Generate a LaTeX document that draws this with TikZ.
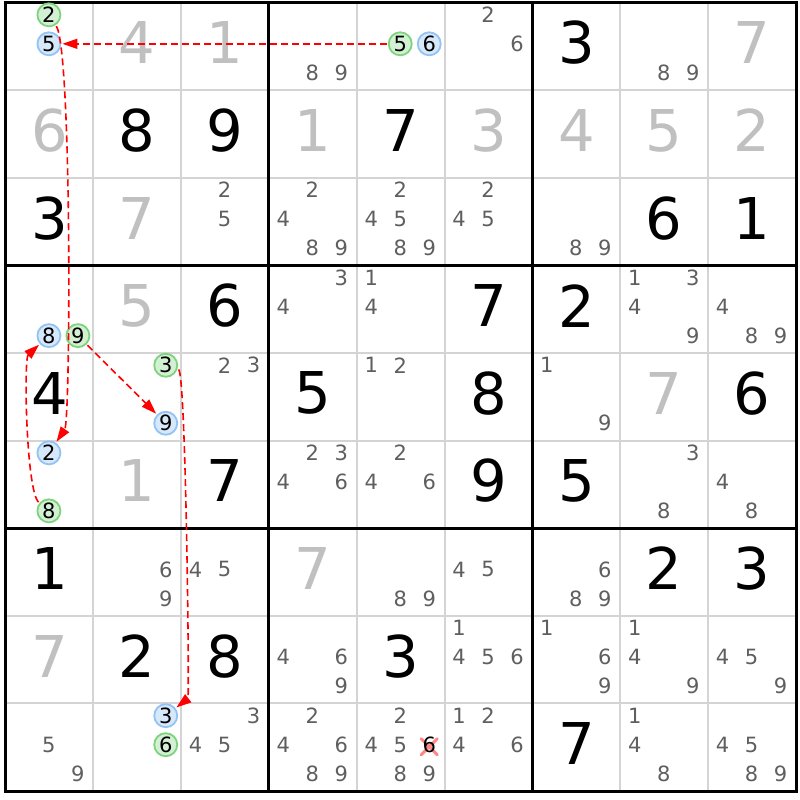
\documentclass[tikz,border=0pt]{standalone}
\usepackage{fontspec}
\setmainfont{DejaVu Sans}
\usetikzlibrary{arrows.meta}
\definecolor{gdig}{RGB}{192,192,192}
\definecolor{cgray}{RGB}{95,95,95}
\definecolor{thinc}{RGB}{212,212,212}
\definecolor{gfill}{RGB}{212,240,212}
\definecolor{gline}{RGB}{125,212,125}
\definecolor{bfill}{RGB}{214,232,250}
\definecolor{bline}{RGB}{145,196,245}
\definecolor{xcol}{RGB}{255,135,135}
\newcommand\cellc[2]{%
 \pgfmathsetmacro\cx{5.5+87.83*(#2+0.5)}%
 \pgfmathsetmacro\cy{2.5+87.61*(#1+0.5)}}
\newcommand\candp[3]{%
 \pgfmathsetmacro\px{5.5+87.83*(#2+0.5)+(mod(#3-1,3)-1)*29-0.5}%
 \pgfmathsetmacro\py{2.5+87.61*(#1+0.5)+(floor((#3-1)/3)-1)*29-2.5}}
\begin{document}
\begin{tikzpicture}[x=0.5pt,y=-0.5pt,
  thinl/.style={draw=thinc,line width=1pt},
  thickl/.style={draw=black,line width=1.5pt},
  big/.style={font=\fontsize{28.8}{30}\selectfont,inner sep=0pt},
  bigk/.style={big,text=black},
  bigg/.style={big,text=gdig},
  cand/.style={font=\fontsize{10.5}{12}\selectfont,text=cgray,inner sep=0pt},
  hl/.style={circle,line width=0.9pt,minimum size=11.5pt,inner sep=0pt,outer sep=1pt,
             font=\fontsize{10.5}{12}\selectfont,text=black},
  hg/.style={hl,draw=gline,fill=gfill},
  hb/.style={hl,draw=bline,fill=bfill},
  arr/.style={draw=red,line width=0.8pt,dash pattern=on 3.5pt off 2pt,
              -{Triangle[length=7.5pt,width=5pt]}}]
\useasboundingbox (0,0) rectangle (800,800);
\fill[white] (0,0) rectangle (800,800);
% grid
\foreach \i in {1,2,4,5,7,8} {
  \draw[thinl] ({5.5+87.83*\i},2.5) -- ({5.5+87.83*\i},791);
  \draw[thinl] (5.5,{2.5+87.61*\i}) -- (796,{2.5+87.61*\i});
}
\foreach \i in {3,6} {
  \draw[thickl] ({5.5+87.83*\i},2.5) -- ({5.5+87.83*\i},791);
  \draw[thickl] (5.5,{2.5+87.61*\i}) -- (796,{2.5+87.61*\i});
}
\draw[thickl] (5.5,2.5) rectangle (796,791);
% big black digits
\foreach \r/\c/\d in {0/6/3,1/1/8,1/2/9,1/4/7,2/0/3,2/7/6,2/8/1,3/2/6,3/5/7,3/6/2,
  4/0/4,4/3/5,4/5/8,4/8/6,5/2/7,5/5/9,5/6/5,6/0/1,6/7/2,6/8/3,7/1/2,7/2/8,7/4/3,8/6/7} {
  \cellc{\r}{\c}
  \node[bigk] (d-\r-\c) at (\cx,\cy-3.5) {\d};
}
% big gray digits
\foreach \r/\c/\d in {0/1/4,0/2/1,0/8/7,1/0/6,1/3/1,1/5/3,1/6/4,1/7/5,1/8/2,2/1/7,
  3/1/5,4/7/7,5/1/1,6/3/7,7/0/7} {
  \cellc{\r}{\c}
  \node[bigg] (d-\r-\c) at (\cx,\cy-3.5) {\d};
}
% candidates
\foreach \r/\c/\ds in {0/3/{8,9},0/5/{2,6},0/7/{8,9},
  2/2/{2,5},2/3/{2,4,8,9},2/4/{2,4,5,8,9},2/5/{2,4,5},2/6/{8,9},
  3/3/{3,4},3/4/{1,4},3/7/{1,3,4,9},3/8/{4,8,9},
  4/2/{2,3},4/4/{1,2},4/6/{1,9},
  5/3/{2,3,4,6},5/4/{2,4,6},5/7/{3,8},5/8/{4,8},
  6/1/{6,9},6/2/{4,5},6/4/{8,9},6/5/{4,5},6/6/{6,8,9},
  7/3/{4,6,9},7/5/{1,4,5,6},7/6/{1,6,9},7/7/{1,4,9},7/8/{4,5,9},
  8/0/{5,9},8/2/{3,4,5},8/3/{2,4,6,8,9},8/4/{2,4,5,8,9},8/5/{1,2,4,6},
  8/7/{1,4,8},8/8/{4,5,8,9}} {
  \foreach \d in \ds {
    \candp{\r}{\c}{\d}
    \node[cand] (c-\r-\c-\d) at (\px,\py) {\d};
  }
}
% eliminated candidate
\candp{8}{4}{6}
\draw[xcol,line width=1.5pt,line cap=round] (\px-8,\py-6) -- (\px+8,\py+10) (\px-8,\py+10) -- (\px+8,\py-6);
\node[cand,text=black] (c-8-4-6) at (\px,\py) {6};
% highlighted candidates
\candp{0}{0}{2} \node[hg] (hA) at (\px,\py) {2};
\candp{0}{0}{5} \node[hb] (hB) at (\px,\py) {5};
\candp{0}{4}{5} \node[hg] (hC) at (\px,\py) {5};
\candp{0}{4}{6} \node[hb] (hD) at (\px,\py) {6};
\candp{3}{0}{8} \node[hb] (hE) at (\px,\py) {8};
\candp{3}{0}{9} \node[hg] (hF) at (\px,\py) {9};
\candp{4}{1}{3} \node[hg] (hG) at (\px,\py) {3};
\candp{4}{1}{9} \node[hb] (hH) at (\px,\py) {9};
\candp{5}{0}{2} \node[hb] (hI) at (\px,\py) {2};
\candp{5}{0}{8} \node[hg] (hJ) at (\px,\py) {8};
\candp{8}{1}{3} \node[hb] (hK) at (\px,\py) {3};
\candp{8}{1}{6} \node[hg] (hL) at (\px,\py) {6};
% chain arrows
\draw[arr] (hC) -- (hB);
\draw[arr] (hA) .. controls (72,50) and (70.6,421) .. (hI);
\draw[arr] (hJ) .. controls (26.3,491.7) and (23.5,359) .. (hE);
\draw[arr] (hF) -- (hH);
\draw[arr] (hG) .. controls (186,372) and (189.4,697.4) .. (hK);
\end{tikzpicture}
\end{document}
